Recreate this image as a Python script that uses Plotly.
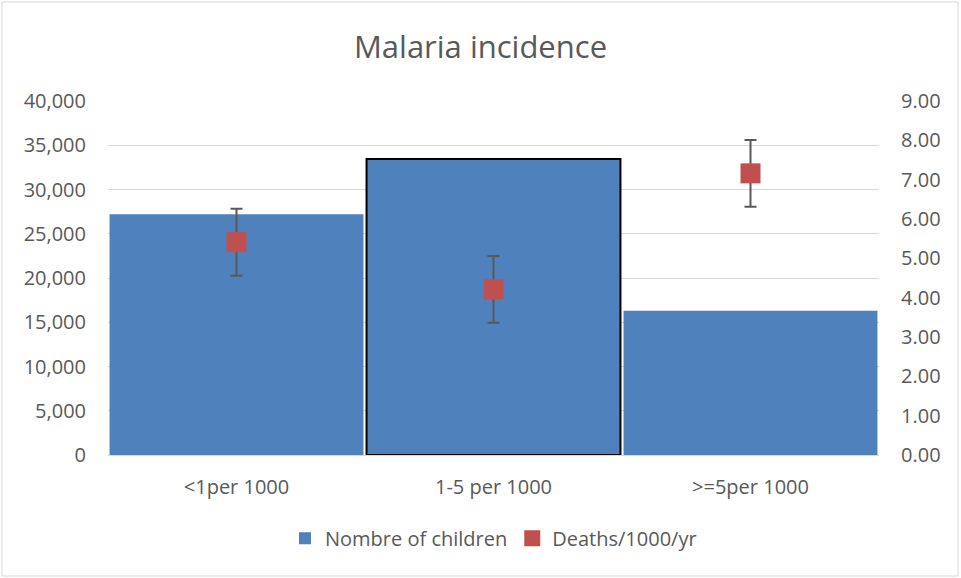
import plotly.graph_objects as go

categories = ["<1per 1000", "1-5 per 1000", ">=5per 1000"]
children = [27200, 33450, 16300]
deaths = [5.41, 4.21, 7.16]
deaths_err = [0.85, 0.85, 0.85]

blue = "#4F81BD"
red = "#C0504D"
txt = "#595959"
grid = "#D9D9D9"

fig = go.Figure()
fig.add_trace(go.Bar(
    x=categories, y=children, name="Nombre of children",
    marker=dict(color=blue,
                line=dict(color=["rgba(0,0,0,0)", "black", "rgba(0,0,0,0)"], width=[0, 2, 0])),
    yaxis="y",
))
fig.add_trace(go.Scatter(
    x=categories, y=deaths, name="Deaths/1000/yr", mode="markers",
    marker=dict(symbol="square", size=20, color=red),
    error_y=dict(type="data", array=deaths_err, color="#595959", thickness=2, width=6),
    yaxis="y2",
))

fig.update_layout(
    width=961, height=578,
    margin=dict(l=108, r=82, t=101, b=123),
    paper_bgcolor="white", plot_bgcolor="white",
    font=dict(family="Open Sans", size=20, color=txt),
    title=dict(text="Malaria incidence", x=0.5, xanchor="center", y=0.918, yanchor="middle",
               font=dict(size=31, color=txt)),
    bargap=0.012,
    showlegend=True,
    legend=dict(orientation="h", x=0.5, xanchor="center", y=-0.235, yanchor="middle",
                font=dict(size=20, color=txt), itemwidth=30),
    xaxis=dict(showgrid=False, showline=True, linecolor=grid, linewidth=1, ticks="",
               ticklabelstandoff=14, tickfont=dict(size=20, color=txt)),
    yaxis=dict(range=[0, 40000], dtick=5000, tickformat=",", showgrid=True, gridcolor=grid,
               gridwidth=1, zeroline=False, showline=False, ticks="", ticklen=0,
               ticklabelstandoff=21, tickfont=dict(size=20, color=txt)),
    yaxis2=dict(range=[0, 9], dtick=1, tickformat=".2f", overlaying="y", side="right",
                showgrid=False, zeroline=False, showline=False, ticks="",
                ticklabelstandoff=21, tickfont=dict(size=20, color=txt)),
    shapes=[dict(type="rect", xref="paper", yref="paper",
                 x0=-0.1375, x1=1.1025, y0=-0.3418, y1=1.2797,
                 line=dict(color=grid, width=1), fillcolor="rgba(0,0,0,0)", layer="below")],
)

fig.write_html("out.html", config={"displayModeBar": False},
               post_script="document.body.style.margin='0';document.body.style.overflow='hidden';")
